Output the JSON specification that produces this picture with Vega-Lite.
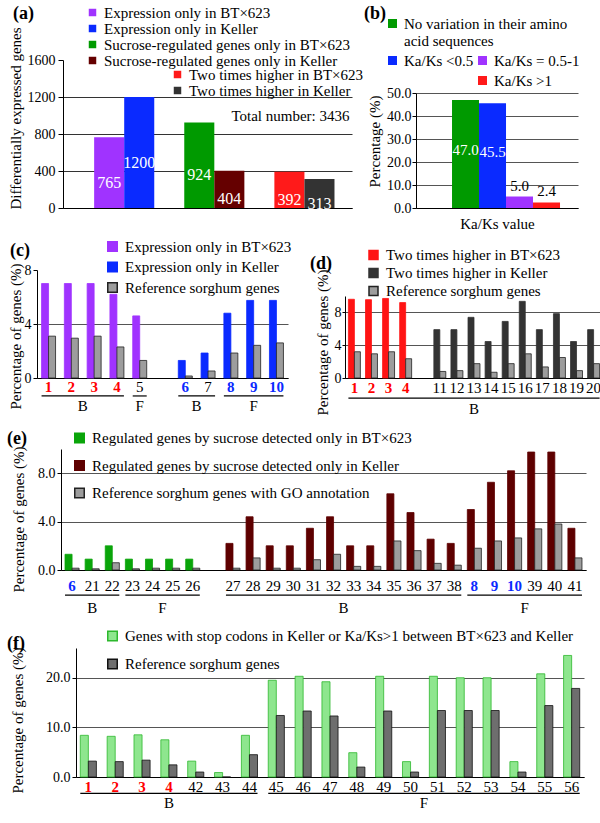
{
"$schema": "https://vega.github.io/schema/vega-lite/v6.json",
"padding": {"left": 0, "top": -2, "right": 0, "bottom": 0},
"background": "white",
"spacing": 0,
"resolve": {"scale": {"fill": "independent", "stroke": "independent", "x": "independent", "y": "independent", "xOffset": "independent"}},
"config": {
 "font": "Liberation Serif",
 "view": {"stroke": null},
 "axis": {"labelFont": "Liberation Serif", "titleFont": "Liberation Serif", "labelFontSize": 14, "titleFontSize": 15, "titleFontWeight": "normal", "labelColor": "#000", "titleColor": "#000", "domainColor": "#000", "tickColor": "#000", "gridColor": "#555", "domainWidth": 1},
 "axisX": {"ticks": false, "tickSize": 0, "labelAngle": 0, "labelFontSize": 15, "labelPadding": 2, "grid": false, "labelOverlap": false},
 "axisY": {"grid": true, "labelOverlap": false},
 "legend": {"labelFont": "Liberation Serif", "labelFontSize": 15, "labelColor": "#000", "symbolType": "square", "padding": 0, "labelLimit": 600, "orient": "none"},
 "title": {"font": "Liberation Serif", "fontSize": 18, "fontWeight": "bold", "color": "#000"}
},
"vconcat": [
 {"spacing": 0, "resolve": {"scale": {"fill": "independent", "stroke": "independent", "x": "independent", "y": "independent", "xOffset": "independent"}}, "hconcat": [
  {"width": 1, "height": 1, "data": {"values": [{}]}, "mark": {"type": "point", "opacity": 0}},
  {"spacing": 0, "resolve": {"scale": {"fill": "independent", "stroke": "independent", "x": "independent", "y": "independent", "xOffset": "independent"}}, "hconcat": [
   {"spacing": 0, "resolve": {"scale": {"fill": "independent", "stroke": "independent", "x": "independent", "y": "independent", "xOffset": "independent"}}, "vconcat": [
    {"width": 1, "height": 1, "data": {"values": [{}]}, "mark": {"type": "point", "opacity": 0}},
    {
     "width": 289, "height": 148,
     "title": {"text": "(a)", "orient": "top", "anchor": "start", "frame": "group", "align": "left", "baseline": "top", "offset": -18, "dx": -50},
     "data": {"values": [
      {"group": "Expression", "strain": "BT×623", "series": "Expression only in BT×623", "genes": 765},
      {"group": "Expression", "strain": "Keller", "series": "Expression only in Keller", "genes": 1200},
      {"group": "Sucrose-regulated", "strain": "BT×623", "series": "Sucrose-regulated genes only in BT×623", "genes": 924},
      {"group": "Sucrose-regulated", "strain": "Keller", "series": "Sucrose-regulated genes only in Keller", "genes": 404},
      {"group": "Two times higher", "strain": "BT×623", "series": "Two times higher in BT×623", "genes": 392},
      {"group": "Two times higher", "strain": "Keller", "series": "Two times higher in Keller", "genes": 313}
     ]},
     "layer": [
      {"transform": [{"filter": "datum.group != 'Two times higher'"}],
       "mark": "bar",
       "encoding": {
        "x": {"field": "group", "type": "nominal", "scale": {"domain": ["Expression", "Sucrose-regulated", "Two times higher"], "paddingInner": 0.333, "paddingOuter": 0.27, "align": 0.64}, "axis": {"labels": false, "ticks": false, "title": null}},
        "xOffset": {"field": "strain", "type": "nominal", "scale": {"domain": ["BT×623", "Keller"]}},
        "y": {"field": "genes", "type": "quantitative", "scale": {"domain": [0, 1600]}, "axis": {"values": [0, 400, 800, 1200, 1600], "format": "d", "title": "Differentially expressed genes", "titleY": 58, "tickSize": 5, "labelPadding": 3, "titlePadding": 4, "gridColor": "#333", "gridOpacity": {"condition": {"test": "datum.value >= 1600", "value": 0}, "value": 1}}},
        "fill": {"field": "series", "type": "nominal", "scale": {"domain": ["Expression only in BT×623", "Expression only in Keller", "Sucrose-regulated genes only in BT×623", "Sucrose-regulated genes only in Keller"], "range": ["#a033ff", "#0a2aff", "#009a00", "#650000"]}, "legend": {"title": null, "orient": "none", "legendX": 22, "legendY": -55, "symbolSize": 56, "rowPadding": -2, "labelOffset": 4}}
       }},
      {"transform": [{"filter": "datum.group == 'Two times higher'"}],
       "mark": "bar",
       "encoding": {
        "x": {"field": "group", "type": "nominal", "scale": {"domain": ["Expression", "Sucrose-regulated", "Two times higher"], "paddingInner": 0.333, "paddingOuter": 0.27, "align": 0.64}, "axis": {"labels": false, "ticks": false, "title": null}},
        "xOffset": {"field": "strain", "type": "nominal", "scale": {"domain": ["BT×623", "Keller"]}},
        "y": {"field": "genes", "type": "quantitative", "scale": {"domain": [0, 1600]}, "axis": null},
        "fill": {"field": "series", "type": "nominal", "scale": {"domain": ["Two times higher in BT×623", "Two times higher in Keller"], "range": ["#ff1a1a", "#333333"]}, "legend": {"title": null, "orient": "none", "legendX": 107, "legendY": 7, "symbolSize": 56, "rowPadding": -2, "labelOffset": 4}}
       }},
      {"mark": {"type": "text", "color": "white", "fontSize": 16, "dy": 10},
       "encoding": {
        "x": {"field": "group", "type": "nominal", "scale": {"domain": ["Expression", "Sucrose-regulated", "Two times higher"], "paddingInner": 0.333, "paddingOuter": 0.27, "align": 0.64}, "axis": {"labels": false, "ticks": false, "title": null}},
        "xOffset": {"field": "strain", "type": "nominal", "scale": {"domain": ["BT×623", "Keller"]}},
        "y": {"field": "genes", "type": "quantitative", "scale": {"domain": [0, 3200]}, "axis": null},
        "text": {"field": "genes", "type": "quantitative"}
       }},
      {"data": {"values": [{"note": "Total number: 3436"}]},
       "mark": {"type": "text", "fontSize": 15, "dx": -14, "color": "#000"},
       "encoding": {
        "x": {"datum": "Two times higher", "type": "nominal", "bandPosition": 0.5, "axis": {"labels": false, "ticks": false, "title": null}},
        "y": {"datum": 1000, "type": "quantitative", "scale": {"domain": [0, 1600]}, "axis": null},
        "text": {"field": "note", "type": "nominal"}
       }}
     ],
     "resolve": {"scale": {"y": "independent", "fill": "independent"}}
    }
   ]},
   {"spacing": 0, "resolve": {"scale": {"fill": "independent", "stroke": "independent", "x": "independent", "y": "independent", "xOffset": "independent"}}, "vconcat": [
    {"width": 1, "height": 1, "data": {"values": [{}]}, "mark": {"type": "point", "opacity": 0}},
    {
     "width": 162, "height": 115,
     "title": {"text": "(b)", "orient": "top", "anchor": "start", "frame": "group", "align": "left", "baseline": "top", "offset": -7, "dx": -52},
     "data": {"values": [
      {"class": "No variation in their amino acid sequences", "pct": 47.0},
      {"class": "Ka/Ks <0.5", "pct": 45.5},
      {"class": "Ka/Ks = 0.5-1", "pct": 5.0},
      {"class": "Ka/Ks >1", "pct": 2.4}
     ]},
     "layer": [
      {"transform": [{"filter": "datum.pct > 20"}],
       "mark": "bar",
       "encoding": {
        "x": {"field": "class", "type": "nominal", "scale": {"domain": ["No variation in their amino acid sequences", "Ka/Ks <0.5", "Ka/Ks = 0.5-1", "Ka/Ks >1"], "paddingInner": 0, "paddingOuter": 1, "align": 0.667}, "axis": {"labels": false, "ticks": false, "title": "Ka/Ks value", "titlePadding": 8}},
        "y": {"field": "pct", "type": "quantitative", "scale": {"domain": [0, 50]}, "axis": {"values": [0, 10, 20, 30, 40, 50], "format": ".1f", "title": "Percentage (%)", "titleY": 48, "tickSize": 4, "labelPadding": 1, "titlePadding": 4}},
        "fill": {"field": "class", "type": "nominal", "scale": {"domain": ["No variation in their amino acid sequences", "Ka/Ks <0.5"], "range": ["#009a00", "#0a2aff"]}, "legend": {"title": null, "orient": "none", "legendX": -31, "legendY": -77, "symbolSize": 81, "rowPadding": 4, "labelOffset": 4, "labelExpr": "datum.label == 'No variation in their amino acid sequences' ? ['No variation in their amino', 'acid sequences'] : datum.label"}}
       }},
      {"transform": [{"filter": "datum.pct < 20"}],
       "mark": "bar",
       "encoding": {
        "x": {"field": "class", "type": "nominal", "scale": {"domain": ["No variation in their amino acid sequences", "Ka/Ks <0.5", "Ka/Ks = 0.5-1", "Ka/Ks >1"], "paddingInner": 0, "paddingOuter": 1, "align": 0.667}, "axis": {"labels": false, "ticks": false, "title": "Ka/Ks value", "titlePadding": 8}},
        "y": {"field": "pct", "type": "quantitative", "scale": {"domain": [0, 50]}, "axis": null},
        "fill": {"field": "class", "type": "nominal", "scale": {"domain": ["Ka/Ks = 0.5-1", "Ka/Ks >1"], "range": ["#a033ff", "#ff1a1a"]}, "legend": {"title": null, "orient": "none", "legendX": 59, "legendY": -40, "symbolSize": 81, "rowPadding": 4, "labelOffset": 4}}
       }},
      {"transform": [{"filter": "datum.pct > 20"}],
       "mark": {"type": "text", "color": "white", "fontSize": 15, "dy": -4},
       "encoding": {
        "x": {"field": "class", "type": "nominal", "scale": {"domain": ["No variation in their amino acid sequences", "Ka/Ks <0.5", "Ka/Ks = 0.5-1", "Ka/Ks >1"], "paddingInner": 0, "paddingOuter": 1, "align": 0.667}, "axis": {"labels": false, "ticks": false, "title": "Ka/Ks value", "titlePadding": 8}},
        "y": {"field": "pct", "type": "quantitative", "scale": {"domain": [0, 100]}, "axis": null},
        "text": {"field": "pct", "type": "quantitative", "format": ".1f"}
       }},
      {"transform": [{"filter": "datum.pct < 20"}],
       "mark": {"type": "text", "color": "#000", "fontSize": 15, "baseline": "bottom", "dy": -3},
       "encoding": {
        "x": {"field": "class", "type": "nominal", "scale": {"domain": ["No variation in their amino acid sequences", "Ka/Ks <0.5", "Ka/Ks = 0.5-1", "Ka/Ks >1"], "paddingInner": 0, "paddingOuter": 1, "align": 0.667}, "axis": {"labels": false, "ticks": false, "title": "Ka/Ks value", "titlePadding": 8}},
        "y": {"field": "pct", "type": "quantitative", "scale": {"domain": [0, 50]}, "axis": null},
        "text": {"field": "pct", "type": "quantitative", "format": ".1f"}
       }}
     ],
     "resolve": {"scale": {"y": "independent", "fill": "independent"}}
    }
   ]}
  ]}
 ]},
 {"spacing": 0, "resolve": {"scale": {"fill": "independent", "stroke": "independent", "x": "independent", "y": "independent", "xOffset": "independent"}}, "hconcat": [
  {"width": 1, "height": 1, "data": {"values": [{}]}, "mark": {"type": "point", "opacity": 0}},
  {"spacing": 18, "resolve": {"scale": {"fill": "independent", "stroke": "independent", "x": "independent", "y": "independent", "xOffset": "independent"}}, "hconcat": [
   {"spacing": 0, "resolve": {"scale": {"fill": "independent", "stroke": "independent", "x": "independent", "y": "independent", "xOffset": "independent"}}, "vconcat": [
    {"width": 1, "height": 4, "data": {"values": [{}]}, "mark": {"type": "point", "opacity": 0}},
    {
     "width": 251, "height": 108,
     "title": {"text": "(c)", "orient": "top", "anchor": "start", "frame": "group", "align": "left", "baseline": "top", "offset": -21, "dx": -27},
     "layer": [
      {"data": {"values": [
        {"c": "1", "k": "sample", "s": "Expression only in BT×623", "v": 7.0},
        {"c": "1", "k": "reference", "s": "Reference sorghum genes", "v": 3.1},
        {"c": "2", "k": "sample", "s": "Expression only in BT×623", "v": 7.0},
        {"c": "2", "k": "reference", "s": "Reference sorghum genes", "v": 2.95},
        {"c": "3", "k": "sample", "s": "Expression only in BT×623", "v": 7.0},
        {"c": "3", "k": "reference", "s": "Reference sorghum genes", "v": 3.1},
        {"c": "4", "k": "sample", "s": "Expression only in BT×623", "v": 6.2},
        {"c": "4", "k": "reference", "s": "Reference sorghum genes", "v": 2.3},
        {"c": "5", "k": "sample", "s": "Expression only in BT×623", "v": 4.6},
        {"c": "5", "k": "reference", "s": "Reference sorghum genes", "v": 1.3},
        {"c": "6", "k": "sample", "s": "Expression only in Keller", "v": 1.3},
        {"c": "6", "k": "reference", "s": "Reference sorghum genes", "v": 0.15},
        {"c": "7", "k": "sample", "s": "Expression only in Keller", "v": 1.85},
        {"c": "7", "k": "reference", "s": "Reference sorghum genes", "v": 0.52},
        {"c": "8", "k": "sample", "s": "Expression only in Keller", "v": 4.8},
        {"c": "8", "k": "reference", "s": "Reference sorghum genes", "v": 1.85},
        {"c": "9", "k": "sample", "s": "Expression only in Keller", "v": 5.75},
        {"c": "9", "k": "reference", "s": "Reference sorghum genes", "v": 2.42},
        {"c": "10", "k": "sample", "s": "Expression only in Keller", "v": 5.75},
        {"c": "10", "k": "reference", "s": "Reference sorghum genes", "v": 2.6}
       ]},
       "mark": {"type": "bar", "strokeWidth": 0.8},
       "encoding": {
        "x": {"field": "c", "type": "nominal", "scale": {"domain": ["1", "2", "3", "4", "5", " ", "6", "7", "8", "9", "10"], "paddingInner": 0.386, "paddingOuter": 0.2}, "axis": {"title": null, "labelPadding": 1, "labelColor": {"condition": [{"test": "indexof(['1','2','3','4'], datum.value) >= 0", "value": "#ff0000"}, {"test": "indexof(['6','8','9','10'], datum.value) >= 0", "value": "#0a2aff"}], "value": "#000000"}, "labelFontWeight": {"condition": {"test": "indexof(['1','2','3','4','6','8','9','10'], datum.value) >= 0", "value": "bold"}, "value": "normal"}}},
        "xOffset": {"field": "k", "type": "nominal", "scale": {"domain": ["sample", "reference"]}},
        "y": {"field": "v", "type": "quantitative", "scale": {"domain": [0, 8]}, "axis": {"values": [0, 2, 4, 6, 8], "title": "Percentage of genes (%)", "titleY": 66, "tickSize": 4, "labelPadding": 2, "titlePadding": 1, "gridOpacity": {"condition": {"test": "datum.value >= 8", "value": 0}, "value": 1}}},
        "fill": {"field": "s", "type": "nominal", "scale": {"domain": ["Expression only in BT×623", "Expression only in Keller", "Reference sorghum genes"], "range": ["#a033ff", "#0a2aff", "#9d9d9d"]}, "legend": {"title": null, "orient": "none", "legendX": 68, "legendY": -31, "symbolSize": 90, "rowPadding": 3.5, "labelOffset": 5}},
        "stroke": {"field": "s", "type": "nominal", "scale": {"domain": ["Expression only in BT×623", "Expression only in Keller", "Reference sorghum genes"], "range": ["#a033ff", "#0a2aff", "#222222"]}, "legend": {"title": null, "orient": "none", "legendX": 68, "legendY": -31, "symbolSize": 90, "rowPadding": 3.5, "labelOffset": 5}}
       }},
      {"data": {"values": [
        {"label": "B", "c": "1", "c2": "4", "left": "2"},
        {"label": "F", "c": "5", "c2": "5", "center": "5"},
        {"label": "B", "c": "6", "c2": "7", "left": "6"},
        {"label": "F", "c": "8", "c2": "10", "center": "9"}
       ]},
       "layer": [
        {"mark": {"type": "rule", "color": "#000", "strokeWidth": 1.2},
         "encoding": {"x": {"field": "c", "type": "nominal", "bandPosition": 0}, "x2": {"field": "c2", "bandPosition": 1}, "y": {"datum": -1.33, "type": "quantitative"}}},
        {"transform": [{"filter": "isValid(datum.center)"}],
         "mark": {"type": "text", "fontSize": 15, "color": "#000"},
         "encoding": {"x": {"field": "center", "type": "nominal", "bandPosition": 0.5}, "y": {"datum": -2.07, "type": "quantitative"}, "text": {"field": "label"}}},
        {"transform": [{"filter": "isValid(datum.left)"}],
         "mark": {"type": "text", "fontSize": 15, "color": "#000"},
         "encoding": {"x": {"field": "left", "type": "nominal", "bandPosition": 1.31}, "y": {"datum": -2.07, "type": "quantitative"}, "text": {"field": "label"}}}
       ]}
     ]
    }
   ]},
   {"spacing": 0, "resolve": {"scale": {"fill": "independent", "stroke": "independent", "x": "independent", "y": "independent", "xOffset": "independent"}}, "vconcat": [
    {"width": 1, "height": 13, "data": {"values": [{}]}, "mark": {"type": "point", "opacity": 0}},
    {
     "width": 258, "height": 82,
     "title": {"text": "(d)", "orient": "top", "anchor": "start", "frame": "group", "align": "left", "baseline": "top", "offset": -25, "dx": -35},
     "layer": [
      {"data": {"values": [
        {"c": "1", "k": "sample", "s": "Two times higher in BT×623", "v": 9.6},
        {"c": "1", "k": "reference", "s": "Reference sorghum genes", "v": 3.2},
        {"c": "2", "k": "sample", "s": "Two times higher in BT×623", "v": 9.55},
        {"c": "2", "k": "reference", "s": "Reference sorghum genes", "v": 2.95},
        {"c": "3", "k": "sample", "s": "Two times higher in BT×623", "v": 9.7},
        {"c": "3", "k": "reference", "s": "Reference sorghum genes", "v": 3.2},
        {"c": "4", "k": "sample", "s": "Two times higher in BT×623", "v": 9.2},
        {"c": "4", "k": "reference", "s": "Reference sorghum genes", "v": 2.35},
        {"c": "11", "k": "sample", "s": "Two times higher in Keller", "v": 5.9},
        {"c": "11", "k": "reference", "s": "Reference sorghum genes", "v": 0.8},
        {"c": "12", "k": "sample", "s": "Two times higher in Keller", "v": 5.9},
        {"c": "12", "k": "reference", "s": "Reference sorghum genes", "v": 0.9},
        {"c": "13", "k": "sample", "s": "Two times higher in Keller", "v": 7.4},
        {"c": "13", "k": "reference", "s": "Reference sorghum genes", "v": 1.75},
        {"c": "14", "k": "sample", "s": "Two times higher in Keller", "v": 4.45},
        {"c": "14", "k": "reference", "s": "Reference sorghum genes", "v": 0.7},
        {"c": "15", "k": "sample", "s": "Two times higher in Keller", "v": 6.9},
        {"c": "15", "k": "reference", "s": "Reference sorghum genes", "v": 1.75},
        {"c": "16", "k": "sample", "s": "Two times higher in Keller", "v": 9.35},
        {"c": "16", "k": "reference", "s": "Reference sorghum genes", "v": 2.95},
        {"c": "17", "k": "sample", "s": "Two times higher in Keller", "v": 5.9},
        {"c": "17", "k": "reference", "s": "Reference sorghum genes", "v": 1.35},
        {"c": "18", "k": "sample", "s": "Two times higher in Keller", "v": 7.85},
        {"c": "18", "k": "reference", "s": "Reference sorghum genes", "v": 2.5},
        {"c": "19", "k": "sample", "s": "Two times higher in Keller", "v": 4.45},
        {"c": "19", "k": "reference", "s": "Reference sorghum genes", "v": 0.9},
        {"c": "20", "k": "sample", "s": "Two times higher in Keller", "v": 5.9},
        {"c": "20", "k": "reference", "s": "Reference sorghum genes", "v": 1.75}
       ]},
       "mark": {"type": "bar", "strokeWidth": 0.8},
       "encoding": {
        "x": {"field": "c", "type": "nominal", "scale": {"domain": ["1", "2", "3", "4", " ", "11", "12", "13", "14", "15", "16", "17", "18", "19", "20"], "paddingInner": 0.3, "paddingOuter": 0.2}, "axis": {"title": null, "labelPadding": 2, "labelColor": {"condition": {"test": "indexof(['1','2','3','4'], datum.value) >= 0", "value": "#ff0000"}, "value": "#000000"}, "labelFontWeight": {"condition": {"test": "indexof(['1','2','3','4'], datum.value) >= 0", "value": "bold"}, "value": "normal"}}},
        "xOffset": {"field": "k", "type": "nominal", "scale": {"domain": ["sample", "reference"]}},
        "y": {"field": "v", "type": "quantitative", "scale": {"domain": [0, 10]}, "axis": {"values": [0, 2, 4, 6, 8, 10], "title": "Percentage of genes (%)", "titleY": 46, "tickSize": 3, "labelPadding": 1, "titlePadding": 4}},
        "fill": {"field": "s", "type": "nominal", "scale": {"domain": ["Two times higher in BT×623", "Two times higher in Keller", "Reference sorghum genes"], "range": ["#ff1414", "#333333", "#9d9d9d"]}, "legend": {"title": null, "orient": "none", "legendX": 21, "legendY": -48.5, "symbolSize": 81, "rowPadding": 2, "labelOffset": 5}},
        "stroke": {"field": "s", "type": "nominal", "scale": {"domain": ["Two times higher in BT×623", "Two times higher in Keller", "Reference sorghum genes"], "range": ["#ff1414", "#333333", "#222222"]}, "legend": {"title": null, "orient": "none", "legendX": 21, "legendY": -48.5, "symbolSize": 81, "rowPadding": 2, "labelOffset": 5}}
       }},
      {"data": {"values": [
        {"label": "B", "c": "1", "c2": "20", "center": "13"}
       ]},
       "layer": [
        {"mark": {"type": "rule", "color": "#000", "strokeWidth": 1.2},
         "encoding": {"x": {"field": "c", "type": "nominal", "bandPosition": 0}, "x2": {"field": "c2", "bandPosition": 1}, "y": {"datum": -2.45, "type": "quantitative"}}},
        {"mark": {"type": "text", "fontSize": 15, "color": "#000"},
         "encoding": {"x": {"field": "center", "type": "nominal", "bandPosition": 0.5}, "y": {"datum": -3.8, "type": "quantitative"}, "text": {"field": "label"}}}
       ]}
     ]
    }
   ]}
  ]}
 ]},
 {"spacing": 0, "resolve": {"scale": {"fill": "independent", "stroke": "independent", "x": "independent", "y": "independent", "xOffset": "independent"}}, "hconcat": [
  {"width": 1, "height": 1, "data": {"values": [{}]}, "mark": {"type": "point", "opacity": 0}},
  {"spacing": 0, "resolve": {"scale": {"fill": "independent", "stroke": "independent", "x": "independent", "y": "independent", "xOffset": "independent"}}, "vconcat": [
   {"width": 1, "height": 9, "data": {"values": [{}]}, "mark": {"type": "point", "opacity": 0}},
   {
    "width": 525, "height": 121,
    "title": {"text": "(e)", "orient": "top", "anchor": "start", "frame": "group", "align": "left", "baseline": "top", "offset": -17.5, "dx": -54},
    "layer": [
     {"data": {"values": [
       {"c": "6", "k": "sample", "s": "Regulated genes by sucrose detected only in BT×623", "v": 1.3},
       {"c": "6", "k": "reference", "s": "Reference sorghum genes with GO annotation", "v": 0.15},
       {"c": "21", "k": "sample", "s": "Regulated genes by sucrose detected only in BT×623", "v": 0.9},
       {"c": "21", "k": "reference", "s": "Reference sorghum genes with GO annotation", "v": 0.1},
       {"c": "22", "k": "sample", "s": "Regulated genes by sucrose detected only in BT×623", "v": 2.0},
       {"c": "22", "k": "reference", "s": "Reference sorghum genes with GO annotation", "v": 0.6},
       {"c": "23", "k": "sample", "s": "Regulated genes by sucrose detected only in BT×623", "v": 0.9},
       {"c": "23", "k": "reference", "s": "Reference sorghum genes with GO annotation", "v": 0.1},
       {"c": "24", "k": "sample", "s": "Regulated genes by sucrose detected only in BT×623", "v": 0.9},
       {"c": "24", "k": "reference", "s": "Reference sorghum genes with GO annotation", "v": 0.15},
       {"c": "25", "k": "sample", "s": "Regulated genes by sucrose detected only in BT×623", "v": 0.9},
       {"c": "25", "k": "reference", "s": "Reference sorghum genes with GO annotation", "v": 0.15},
       {"c": "26", "k": "sample", "s": "Regulated genes by sucrose detected only in BT×623", "v": 0.9},
       {"c": "26", "k": "reference", "s": "Reference sorghum genes with GO annotation", "v": 0.15},
       {"c": "27", "k": "sample", "s": "Regulated genes by sucrose detected only in Keller", "v": 2.2},
       {"c": "27", "k": "reference", "s": "Reference sorghum genes with GO annotation", "v": 0.15},
       {"c": "28", "k": "sample", "s": "Regulated genes by sucrose detected only in Keller", "v": 4.4},
       {"c": "28", "k": "reference", "s": "Reference sorghum genes with GO annotation", "v": 1.0},
       {"c": "29", "k": "sample", "s": "Regulated genes by sucrose detected only in Keller", "v": 2.0},
       {"c": "29", "k": "reference", "s": "Reference sorghum genes with GO annotation", "v": 0.15},
       {"c": "30", "k": "sample", "s": "Regulated genes by sucrose detected only in Keller", "v": 2.0},
       {"c": "30", "k": "reference", "s": "Reference sorghum genes with GO annotation", "v": 0.15},
       {"c": "31", "k": "sample", "s": "Regulated genes by sucrose detected only in Keller", "v": 3.45},
       {"c": "31", "k": "reference", "s": "Reference sorghum genes with GO annotation", "v": 0.85},
       {"c": "32", "k": "sample", "s": "Regulated genes by sucrose detected only in Keller", "v": 4.4},
       {"c": "32", "k": "reference", "s": "Reference sorghum genes with GO annotation", "v": 1.3},
       {"c": "33", "k": "sample", "s": "Regulated genes by sucrose detected only in Keller", "v": 2.0},
       {"c": "33", "k": "reference", "s": "Reference sorghum genes with GO annotation", "v": 0.3},
       {"c": "34", "k": "sample", "s": "Regulated genes by sucrose detected only in Keller", "v": 2.0},
       {"c": "34", "k": "reference", "s": "Reference sorghum genes with GO annotation", "v": 0.3},
       {"c": "35", "k": "sample", "s": "Regulated genes by sucrose detected only in Keller", "v": 6.3},
       {"c": "35", "k": "reference", "s": "Reference sorghum genes with GO annotation", "v": 2.4},
       {"c": "36", "k": "sample", "s": "Regulated genes by sucrose detected only in Keller", "v": 4.75},
       {"c": "36", "k": "reference", "s": "Reference sorghum genes with GO annotation", "v": 1.6},
       {"c": "37", "k": "sample", "s": "Regulated genes by sucrose detected only in Keller", "v": 2.55},
       {"c": "37", "k": "reference", "s": "Reference sorghum genes with GO annotation", "v": 0.55},
       {"c": "38", "k": "sample", "s": "Regulated genes by sucrose detected only in Keller", "v": 2.2},
       {"c": "38", "k": "reference", "s": "Reference sorghum genes with GO annotation", "v": 0.4},
       {"c": "8", "k": "sample", "s": "Regulated genes by sucrose detected only in Keller", "v": 5.0},
       {"c": "8", "k": "reference", "s": "Reference sorghum genes with GO annotation", "v": 1.8},
       {"c": "9", "k": "sample", "s": "Regulated genes by sucrose detected only in Keller", "v": 7.25},
       {"c": "9", "k": "reference", "s": "Reference sorghum genes with GO annotation", "v": 2.4},
       {"c": "10", "k": "sample", "s": "Regulated genes by sucrose detected only in Keller", "v": 8.2},
       {"c": "10", "k": "reference", "s": "Reference sorghum genes with GO annotation", "v": 2.65},
       {"c": "39", "k": "sample", "s": "Regulated genes by sucrose detected only in Keller", "v": 9.75},
       {"c": "39", "k": "reference", "s": "Reference sorghum genes with GO annotation", "v": 3.4},
       {"c": "40", "k": "sample", "s": "Regulated genes by sucrose detected only in Keller", "v": 9.75},
       {"c": "40", "k": "reference", "s": "Reference sorghum genes with GO annotation", "v": 3.8},
       {"c": "41", "k": "sample", "s": "Regulated genes by sucrose detected only in Keller", "v": 3.45},
       {"c": "41", "k": "reference", "s": "Reference sorghum genes with GO annotation", "v": 1.0}
      ]},
      "mark": {"type": "bar", "strokeWidth": 0.8},
      "encoding": {
       "x": {"field": "c", "type": "nominal", "scale": {"domain": ["6", "21", "22", "23", "24", "25", "26", " ", "27", "28", "29", "30", "31", "32", "33", "34", "35", "36", "37", "38", "8", "9", "10", "39", "40", "41"], "paddingInner": 0.3, "paddingOuter": 0.2}, "axis": {"title": null, "labelPadding": 8, "labelColor": {"condition": {"test": "indexof(['6','8','9','10'], datum.value) >= 0", "value": "#0a2aff"}, "value": "#000000"}, "labelFontWeight": {"condition": {"test": "indexof(['6','8','9','10'], datum.value) >= 0", "value": "bold"}, "value": "normal"}}},
       "xOffset": {"field": "k", "type": "nominal", "scale": {"domain": ["sample", "reference"]}},
       "y": {"field": "v", "type": "quantitative", "scale": {"domain": [0, 10]}, "axis": {"values": [0, 2, 4, 6, 8, 10], "format": ".1f", "title": "Percentage of genes (%)", "titleY": 70, "tickSize": 4, "labelPadding": 2, "titlePadding": 11}},
       "fill": {"field": "s", "type": "nominal", "scale": {"domain": ["Regulated genes by sucrose detected only in BT×623", "Regulated genes by sucrose detected only in Keller", "Reference sorghum genes with GO annotation"], "range": ["#0aa50a", "#5e0000", "#9d9d9d"]}, "legend": {"title": null, "orient": "none", "legendX": 11, "legendY": -18.5, "symbolSize": 90, "rowPadding": 10.5, "labelOffset": 5}},
       "stroke": {"field": "s", "type": "nominal", "scale": {"domain": ["Regulated genes by sucrose detected only in BT×623", "Regulated genes by sucrose detected only in Keller", "Reference sorghum genes with GO annotation"], "range": ["#0aa50a", "#5e0000", "#222222"]}, "legend": {"title": null, "orient": "none", "legendX": 11, "legendY": -18.5, "symbolSize": 90, "rowPadding": 10.5, "labelOffset": 5}}
      }},
     {"data": {"values": [
       {"label": "B", "c": "6", "c2": "22", "center": "21"},
       {"label": "F", "c": "23", "c2": "26", "left": "24"},
       {"label": "B", "c": "27", "c2": "38", "left": "32"},
       {"label": "F", "c": "8", "c2": "41", "left": "10"}
      ]},
      "layer": [
       {"mark": {"type": "rule", "color": "#000", "strokeWidth": 1.2},
        "encoding": {"x": {"field": "c", "type": "nominal", "bandPosition": 0}, "x2": {"field": "c2", "bandPosition": 1}, "y": {"datum": -2.07, "type": "quantitative"}}},
       {"transform": [{"filter": "isValid(datum.center)"}],
        "mark": {"type": "text", "fontSize": 15, "color": "#000"},
        "encoding": {"x": {"field": "center", "type": "nominal", "bandPosition": 0.5}, "y": {"datum": -3.15, "type": "quantitative"}, "text": {"field": "label"}}},
       {"transform": [{"filter": "isValid(datum.left)"}],
        "mark": {"type": "text", "fontSize": 15, "color": "#000"},
        "encoding": {"x": {"field": "left", "type": "nominal", "bandPosition": 1.21}, "y": {"datum": -3.15, "type": "quantitative"}, "text": {"field": "label"}}}
      ]}
    ]
   }
  ]}
 ]},
 {"spacing": 0, "resolve": {"scale": {"fill": "independent", "stroke": "independent", "x": "independent", "y": "independent", "xOffset": "independent"}}, "hconcat": [
  {"width": 1, "height": 1, "data": {"values": [{}]}, "mark": {"type": "point", "opacity": 0}},
  {"spacing": 0, "resolve": {"scale": {"fill": "independent", "stroke": "independent", "x": "independent", "y": "independent", "xOffset": "independent"}}, "vconcat": [
   {"width": 1, "height": 8, "data": {"values": [{}]}, "mark": {"type": "point", "opacity": 0}},
   {
    "width": 508, "height": 129,
    "title": {"text": "(f)", "orient": "top", "anchor": "start", "frame": "group", "align": "left", "baseline": "top", "offset": -24.5, "dx": -69},
    "layer": [
     {"data": {"values": [
       {"c": "1", "k": "sample", "s": "Genes with stop codons in Keller or Ka/Ks>1 between BT×623 and Keller", "v": 8.4},
       {"c": "1", "k": "reference", "s": "Reference sorghum genes", "v": 3.2},
       {"c": "2", "k": "sample", "s": "Genes with stop codons in Keller or Ka/Ks>1 between BT×623 and Keller", "v": 8.2},
       {"c": "2", "k": "reference", "s": "Reference sorghum genes", "v": 3.1},
       {"c": "3", "k": "sample", "s": "Genes with stop codons in Keller or Ka/Ks>1 between BT×623 and Keller", "v": 8.5},
       {"c": "3", "k": "reference", "s": "Reference sorghum genes", "v": 3.4},
       {"c": "4", "k": "sample", "s": "Genes with stop codons in Keller or Ka/Ks>1 between BT×623 and Keller", "v": 7.5},
       {"c": "4", "k": "reference", "s": "Reference sorghum genes", "v": 2.45},
       {"c": "42", "k": "sample", "s": "Genes with stop codons in Keller or Ka/Ks>1 between BT×623 and Keller", "v": 3.2},
       {"c": "42", "k": "reference", "s": "Reference sorghum genes", "v": 1.0},
       {"c": "43", "k": "sample", "s": "Genes with stop codons in Keller or Ka/Ks>1 between BT×623 and Keller", "v": 0.9},
       {"c": "43", "k": "reference", "s": "Reference sorghum genes", "v": 0},
       {"c": "44", "k": "sample", "s": "Genes with stop codons in Keller or Ka/Ks>1 between BT×623 and Keller", "v": 8.4},
       {"c": "44", "k": "reference", "s": "Reference sorghum genes", "v": 4.5},
       {"c": "45", "k": "sample", "s": "Genes with stop codons in Keller or Ka/Ks>1 between BT×623 and Keller", "v": 19.5},
       {"c": "45", "k": "reference", "s": "Reference sorghum genes", "v": 12.4},
       {"c": "46", "k": "sample", "s": "Genes with stop codons in Keller or Ka/Ks>1 between BT×623 and Keller", "v": 20.3},
       {"c": "46", "k": "reference", "s": "Reference sorghum genes", "v": 13.3},
       {"c": "47", "k": "sample", "s": "Genes with stop codons in Keller or Ka/Ks>1 between BT×623 and Keller", "v": 19.2},
       {"c": "47", "k": "reference", "s": "Reference sorghum genes", "v": 12.3},
       {"c": "48", "k": "sample", "s": "Genes with stop codons in Keller or Ka/Ks>1 between BT×623 and Keller", "v": 4.9},
       {"c": "48", "k": "reference", "s": "Reference sorghum genes", "v": 2.0},
       {"c": "49", "k": "sample", "s": "Genes with stop codons in Keller or Ka/Ks>1 between BT×623 and Keller", "v": 20.3},
       {"c": "49", "k": "reference", "s": "Reference sorghum genes", "v": 13.3},
       {"c": "50", "k": "sample", "s": "Genes with stop codons in Keller or Ka/Ks>1 between BT×623 and Keller", "v": 3.1},
       {"c": "50", "k": "reference", "s": "Reference sorghum genes", "v": 1.0},
       {"c": "51", "k": "sample", "s": "Genes with stop codons in Keller or Ka/Ks>1 between BT×623 and Keller", "v": 20.3},
       {"c": "51", "k": "reference", "s": "Reference sorghum genes", "v": 13.4},
       {"c": "52", "k": "sample", "s": "Genes with stop codons in Keller or Ka/Ks>1 between BT×623 and Keller", "v": 20.0},
       {"c": "52", "k": "reference", "s": "Reference sorghum genes", "v": 13.4},
       {"c": "53", "k": "sample", "s": "Genes with stop codons in Keller or Ka/Ks>1 between BT×623 and Keller", "v": 20.0},
       {"c": "53", "k": "reference", "s": "Reference sorghum genes", "v": 13.4},
       {"c": "54", "k": "sample", "s": "Genes with stop codons in Keller or Ka/Ks>1 between BT×623 and Keller", "v": 3.1},
       {"c": "54", "k": "reference", "s": "Reference sorghum genes", "v": 1.0},
       {"c": "55", "k": "sample", "s": "Genes with stop codons in Keller or Ka/Ks>1 between BT×623 and Keller", "v": 20.8},
       {"c": "55", "k": "reference", "s": "Reference sorghum genes", "v": 14.4},
       {"c": "56", "k": "sample", "s": "Genes with stop codons in Keller or Ka/Ks>1 between BT×623 and Keller", "v": 24.5},
       {"c": "56", "k": "reference", "s": "Reference sorghum genes", "v": 17.85}
      ]},
      "mark": {"type": "bar", "strokeWidth": 0.8},
      "encoding": {
       "x": {"field": "c", "type": "nominal", "scale": {"domain": ["1", "2", "3", "4", "42", "43", "44", "45", "46", "47", "48", "49", "50", "51", "52", "53", "54", "55", "56"], "paddingInner": 0.4, "paddingOuter": 0.16}, "axis": {"title": null, "labelPadding": 2, "labelColor": {"condition": {"test": "indexof(['1','2','3','4'], datum.value) >= 0", "value": "#ff0000"}, "value": "#000000"}, "labelFontWeight": {"condition": {"test": "indexof(['1','2','3','4'], datum.value) >= 0", "value": "bold"}, "value": "normal"}}},
       "xOffset": {"field": "k", "type": "nominal", "scale": {"domain": ["sample", "reference"]}},
       "y": {"field": "v", "type": "quantitative", "scale": {"domain": [0, 25]}, "axis": {"values": [0, 5, 10, 15, 20, 25], "format": ".1f", "title": "Percentage of genes (%)", "titleY": 72, "tickSize": 4, "labelPadding": 2, "titlePadding": 20}},
       "fill": {"field": "s", "type": "nominal", "scale": {"domain": ["Genes with stop codons in Keller or Ka/Ks>1 between BT×623 and Keller", "Reference sorghum genes"], "range": ["#8ee68e", "#6e6e6e"]}, "legend": {"title": null, "orient": "none", "legendX": 29, "legendY": -19.5, "symbolSize": 90, "rowPadding": 11, "labelOffset": 5}},
       "stroke": {"field": "s", "type": "nominal", "scale": {"domain": ["Genes with stop codons in Keller or Ka/Ks>1 between BT×623 and Keller", "Reference sorghum genes"], "range": ["#2db82d", "#111111"]}, "legend": {"title": null, "orient": "none", "legendX": 29, "legendY": -19.5, "symbolSize": 90, "rowPadding": 11, "labelOffset": 5}}
      }},
     {"data": {"values": [
       {"label": "B", "c": "1", "c2": "44", "center": "4"},
       {"label": "F", "c": "45", "c2": "56", "left": "50"}
      ]},
      "layer": [
       {"mark": {"type": "rule", "color": "#000", "strokeWidth": 1.2},
        "encoding": {"x": {"field": "c", "type": "nominal", "bandPosition": 0}, "x2": {"field": "c2", "bandPosition": 1}, "y": {"datum": -3.29, "type": "quantitative"}}},
       {"transform": [{"filter": "isValid(datum.center)"}],
        "mark": {"type": "text", "fontSize": 15, "color": "#000"},
        "encoding": {"x": {"field": "center", "type": "nominal", "bandPosition": 0.5}, "y": {"datum": -5.2, "type": "quantitative"}, "text": {"field": "label"}}},
       {"transform": [{"filter": "isValid(datum.left)"}],
        "mark": {"type": "text", "fontSize": 15, "color": "#000"},
        "encoding": {"x": {"field": "left", "type": "nominal", "bandPosition": 1.33}, "y": {"datum": -5.2, "type": "quantitative"}, "text": {"field": "label"}}}
      ]}
    ]
   }
  ]}
 ]}
]
}
